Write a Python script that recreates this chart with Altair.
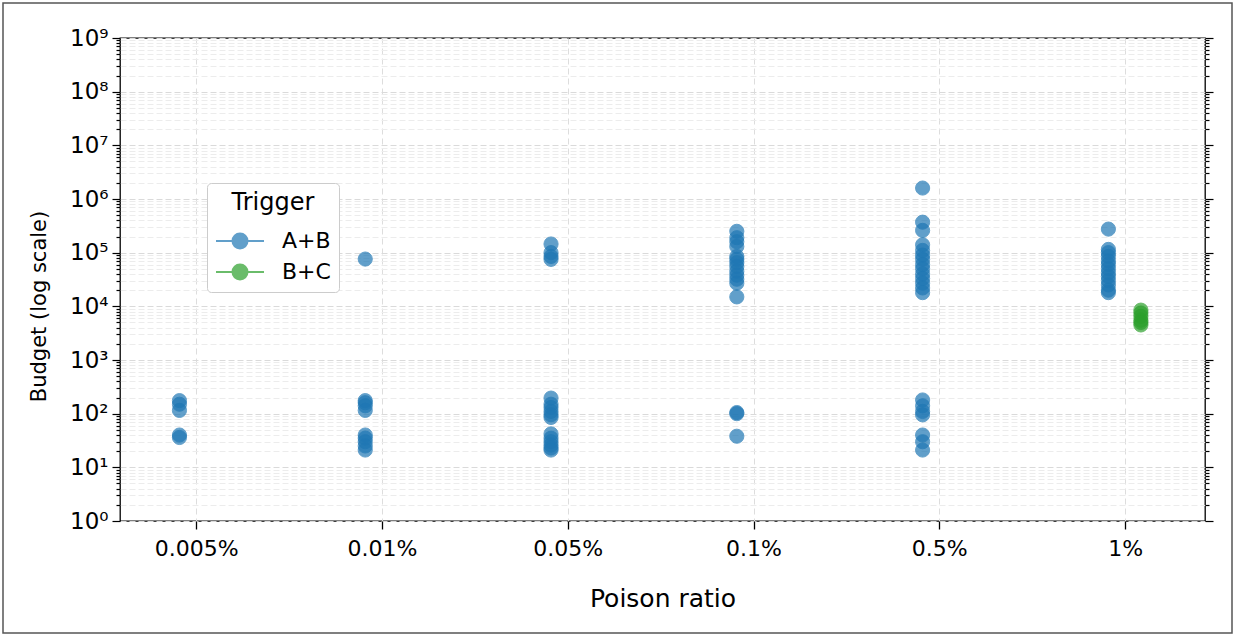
import altair as alt
import pandas as pd

# ---------------- data ----------------
ratio_labels = ["0.005%", "0.01%", "0.05%", "0.1%", "0.5%", "1%"]
triggers = ["A+B", "B+C"]
trigger_offsets = [-0.09, 0.085]
trigger_colors = ["#1f77b4", "#2ca02c"]

ab_budgets = [
    [175, 150, 115, 40, 36],
    [76000, 175, 160, 140, 115, 40, 35, 30, 25, 21],
    [145000, 100000, 85000, 75000, 195, 150, 130, 110, 95, 85, 42, 35, 30, 26, 23, 21],
    [250000, 190000, 160000, 130000, 85000, 75000, 65000, 55000, 45000, 38000,
     32000, 27000, 15000, 105, 100, 38],
    [1600000, 370000, 260000, 140000, 110000, 90000, 75000, 60000, 50000, 40000,
     33000, 27000, 22000, 18000, 180, 140, 110, 95, 40, 30, 21],
    [275000, 115000, 100000, 85000, 70000, 60000, 50000, 42000, 36000, 30000,
     25000, 20000, 18000],
]
bc_budgets = [[], [], [], [], [], [8500, 7500, 6500, 5500, 5000, 4500]]

y_exponents = list(range(0, 10))
superscripts = ["⁰", "¹", "²", "³", "⁴", "⁵", "⁶", "⁷", "⁸", "⁹"]
minor_multipliers = [1, 2, 3, 4, 5, 6, 7, 8, 9]

rows = []
for t_idx, series in enumerate([ab_budgets, bc_budgets]):
    for c_idx, values in enumerate(series):
        for v in values:
            rows.append({
                "ratio": ratio_labels[c_idx],
                "xpos": c_idx + trigger_offsets[t_idx],
                "budget": v,
                "trigger": triggers[t_idx],
            })
df = pd.DataFrame(rows)

y_tick_values = []
for e in y_exponents[:-1]:
    for m in minor_multipliers:
        y_tick_values.append(m * 10 ** e)
y_tick_values.append(10 ** y_exponents[-1])

FONT = "DejaVu Sans"
sup_js = "[" + ",".join("'" + s + "'" for s in superscripts) + "]"
lab_js = "[" + ",".join("'" + s + "'" for s in ratio_labels) + "]"
decade_test = "abs(log(datum.value)/LN10 - round(log(datum.value)/LN10)) < 0.001"

x_enc = alt.X(
    "xpos:Q",
    scale=alt.Scale(domain=[-0.41, 5.43], nice=False, zero=False),
    axis=alt.Axis(
        values=list(range(len(ratio_labels))),
        labelExpr=lab_js + "[round(datum.value)]",
        title="Poison ratio",
        grid=True,
        gridDash=[6, 4],
        gridColor="#dddddd",
        gridWidth=1,
        tickSize=8,
        tickWidth=1.3,
        tickColor="black",
        domain=False,
        labelFontSize=22,
        labelPadding=9,
        labelColor="black",
        titleFontSize=25,
        titleFontWeight="normal",
        titlePadding=27,
        titleColor="black",
        labelFont=FONT,
        titleFont=FONT,
    ),
)

y_scale = alt.Scale(type="log", domain=[1, 1e9], nice=False)

points = alt.Chart(df).mark_point(filled=True, size=200, opacity=0.7, strokeWidth=1).encode(
    x=x_enc,
    y=alt.Y(
        "budget:Q",
        scale=y_scale,
        axis=alt.Axis(
            values=y_tick_values,
            labelExpr=decade_test + " ? '10' + " + sup_js + "[round(log(datum.value)/LN10)] : ''",
            labelOverlap=False,
            title="Budget (log scale)",
            grid=True,
            gridDash=[6, 3],
            gridColor={"condition": {"test": decade_test, "value": "#dadada"}, "value": "#ececec"},
            gridWidth=1,
            tickSize={"condition": {"test": decade_test, "value": 8}, "value": 4},
            tickWidth=1.2,
            tickColor="black",
            domain=False,
            labelFontSize=23,
            labelPadding=4,
            labelColor="black",
            titleFontSize=21,
            titleFontWeight="normal",
            titlePadding=20,
            titleY=268,
            titleColor="black",
            labelFont=FONT,
            titleFont=FONT,
        ),
    ),
    color=alt.Color(
        "trigger:N",
        scale=alt.Scale(domain=triggers, range=trigger_colors),
        legend=alt.Legend(title="Trigger"),
    ),
    stroke=alt.Stroke(
        "trigger:N",
        scale=alt.Scale(domain=triggers, range=trigger_colors),
        legend=alt.Legend(title="Trigger"),
    ),
)

right_axis = alt.Chart(df).mark_point(opacity=0).encode(
    x=x_enc,
    y=alt.Y(
        "budget:Q",
        scale=y_scale,
        axis=alt.Axis(
            orient="right",
            values=y_tick_values,
            labels=False,
            title=None,
            grid=False,
            domain=False,
            tickSize={"condition": {"test": decade_test, "value": 8}, "value": 4},
            tickWidth=1.2,
            tickColor="black",
        ),
    ),
)

frame = alt.Chart(pd.DataFrame({"a": [0]})).mark_rect(
    fill=None, stroke="#555555", strokeWidth=1.5
).encode(
    x=alt.value(-117), x2=alt.value(1112), y=alt.value(-35), y2=alt.value(595)
)

chart = (
    alt.layer(frame, points, right_axis)
    .resolve_axis(y="independent")
    .properties(
        width=1085,
        height=483,
        autosize=alt.AutoSizeParams(type="none"),
        padding={"left": 120, "top": 38, "right": 36, "bottom": 114},
        background="white",
    )
    .configure_view(stroke="black", strokeWidth=1.3)
    .configure_legend(
        orient="none",
        legendX=87,
        legendY=145,
        padding=8,
        fillColor="white",
        strokeColor="#cccccc",
        cornerRadius=4,
        titleFontSize=24,
        titleFontWeight="normal",
        titleFont=FONT,
        titleColor="black",
        titleAnchor="middle",
        titlePadding=13,
        labelFontSize=22,
        labelFont=FONT,
        labelColor="black",
        labelOffset=41,
        rowPadding=6,
        symbolType="M-1,0H3M0.375,0A0.625,0.625 0 1,0 1.625,0A0.625,0.625 0 1,0 0.375,0Z",
        symbolSize=576,
        symbolStrokeWidth=2,
    )
)

chart.save("out.html", embed_options={"renderer": "svg", "actions": False})
